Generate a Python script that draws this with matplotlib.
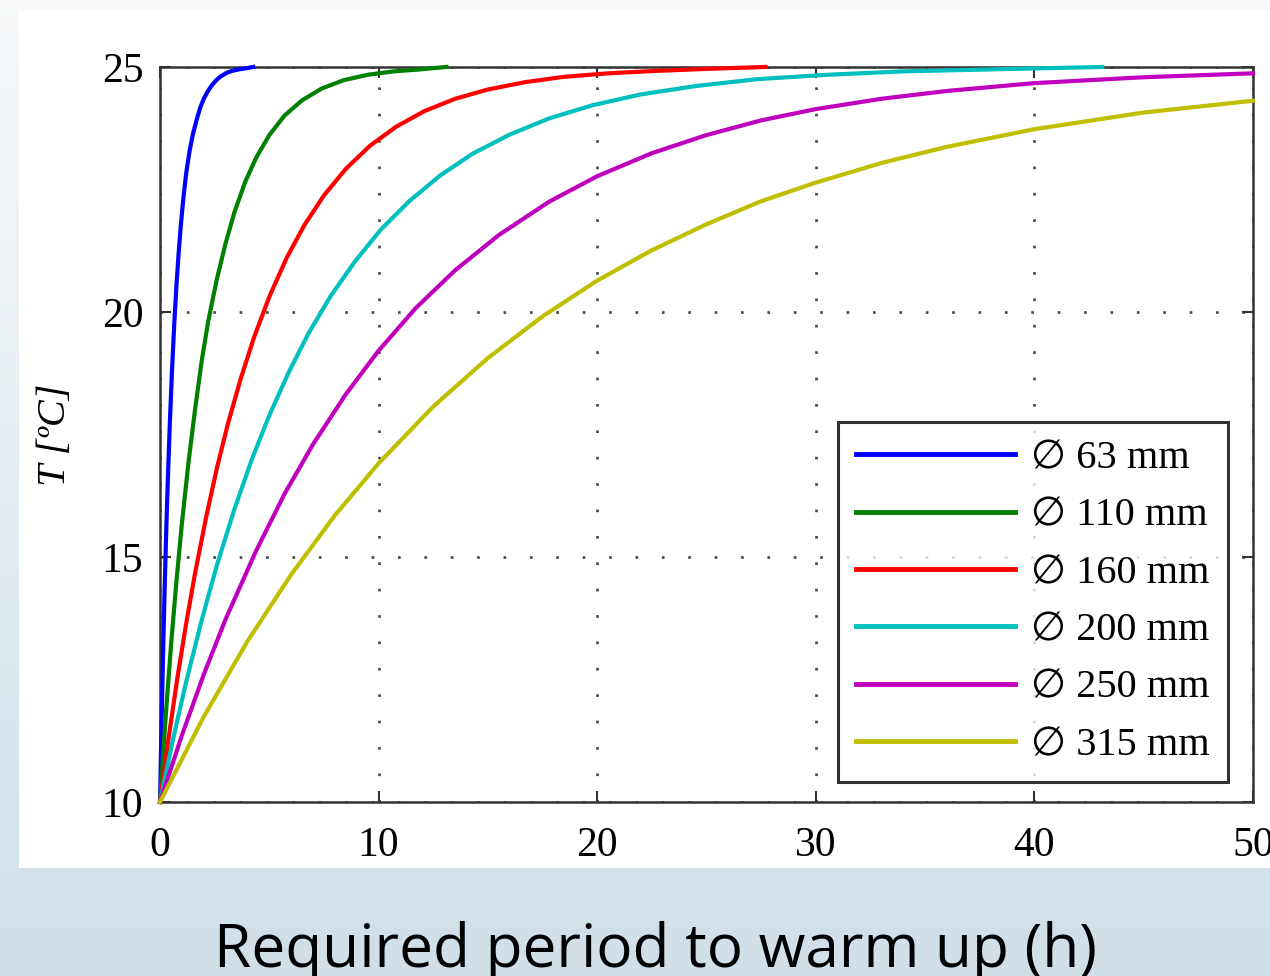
"""
Warm-up curves: water temperature against time for pipes of
different diameter. Values were read off the original figure.
"""

import numpy as np
import matplotlib
matplotlib.use("Agg")
import matplotlib.pyplot as plt
from matplotlib.patches import Rectangle

# ---- data (time in h, temperature in degC) ----
labels = ["\u2205 63 mm", "\u2205 110 mm", "\u2205 160 mm",
          "\u2205 200 mm", "\u2205 250 mm", "\u2205 315 mm"]

t_63 = [0, 0.05, 0.1, 0.15, 0.2, 0.25, 0.3, 0.37, 0.45, 0.55, 0.65, 0.75, 0.85, 0.95,
        1.07, 1.2, 1.35, 1.5, 1.68, 1.84, 2.0, 2.18, 2.36, 2.55, 2.75, 3.05, 3.3, 3.6, 3.9, 4.26]
T_63 = [10, 11.16, 12.23, 13.22, 14.14, 14.98, 15.76, 16.74, 17.74, 18.82, 19.74, 20.53, 21.19, 21.76,
        22.33, 22.84, 23.28, 23.62, 23.93, 24.17, 24.35, 24.5, 24.62, 24.72, 24.8, 24.88, 24.92, 24.95, 24.97, 25.0]

t_110 = [0, 0.15, 0.3, 0.5, 0.75, 1.0, 1.3, 1.6, 1.9, 2.2, 2.6, 3.0, 3.4, 3.9, 4.4,
         5.0, 5.7, 6.5, 7.4, 8.4, 9.5, 10.7, 11.9, 13.1]
T_110 = [10, 11.04, 11.99, 13.18, 14.5, 15.68, 16.92, 18.0, 18.98, 19.8, 20.67, 21.4, 22.03, 22.66, 23.15,
         23.61, 24.01, 24.32, 24.56, 24.73, 24.84, 24.91, 24.95, 25.0]

t_160 = [0, 0.4, 0.8, 1.2, 1.6, 2.1, 2.6, 3.1, 3.7, 4.3, 5.0, 5.8, 6.6, 7.5, 8.5, 9.6,
         10.8, 12.1, 13.5, 15.0, 16.7, 18.5, 20.5, 22.7, 25.0, 27.7]
T_160 = [10, 11.33, 12.55, 13.65, 14.66, 15.79, 16.81, 17.71, 18.65, 19.48, 20.31, 21.11, 21.77, 22.38, 22.92, 23.39,
         23.78, 24.1, 24.35, 24.54, 24.69, 24.8, 24.87, 24.92, 24.96, 25.0]

t_200 = [0, 0.6, 1.2, 1.9, 2.6, 3.4, 4.2, 5.0, 5.9, 6.8, 7.8, 8.9, 10.1, 11.4, 12.8,
         14.3, 16.0, 17.8, 19.8, 22.0, 24.5, 27.3, 30.5, 34.0, 38.0, 43.1]
T_200 = [10, 11.29, 12.46, 13.7, 14.83, 15.97, 16.99, 17.89, 18.78, 19.57, 20.32, 21.02, 21.68, 22.26, 22.78,
         23.23, 23.62, 23.95, 24.22, 24.44, 24.61, 24.75, 24.84, 24.91, 24.95, 25.0]

t_250 = [0, 1, 2, 3, 4.4, 5.7, 7, 8.5, 10, 11.7, 13.5, 15.5, 17.8, 20, 22.5, 25,
         27.5, 30, 33, 36, 40, 45, 50]
T_250 = [10, 11.36, 12.6, 13.73, 15.13, 16.29, 17.3, 18.32, 19.21, 20.08, 20.85, 21.57, 22.25, 22.77, 23.24, 23.61,
         23.91, 24.14, 24.35, 24.51, 24.67, 24.79, 24.87]

t_315 = [0, 2, 4, 6, 8, 10, 12.5, 15, 17.5, 20, 22.5, 25, 27.5, 30, 33, 36, 40, 45, 50]
T_315 = [10, 11.74, 13.28, 14.64, 15.85, 16.91, 18.07, 19.06, 19.91, 20.64, 21.26, 21.79, 22.26, 22.64,
         23.04, 23.37, 23.73, 24.07, 24.31]

series_t = [t_63, t_110, t_160, t_200, t_250, t_315]
series_T = [T_63, T_110, T_160, T_200, T_250, T_315]

# MATLAB default line colours
colors = [(0, 0, 1), (0, 0.5, 0), (1, 0, 0),
          (0, 0.75, 0.75), (0.75, 0, 0.75), (0.75, 0.75, 0)]

x_ticks = [0, 10, 20, 30, 40, 50]
y_ticks = [10, 15, 20, 25]

serif = ["Liberation Serif", "DejaVu Sans"]

fig = plt.figure(figsize=(12.7, 9.76), dpi=100)

# light blue gradient behind everything
bg = fig.add_axes([0, 0, 1, 1], zorder=-10)
grad = np.linspace(0, 1, 256).reshape(-1, 1)
top_c = np.array([0.97, 0.978, 0.985])
bot_c = np.array([0.815, 0.875, 0.91])
img = top_c + (bot_c - top_c) * grad[:, :, None]
bg.imshow(img, aspect="auto", extent=[0, 1, 0, 1], origin="upper")
bg.set_axis_off()

# white panel of the original MATLAB figure
fig.patches.append(Rectangle((0.015, 0.1107), 0.985, 0.878,
                             transform=fig.transFigure, facecolor="white",
                             edgecolor="none", zorder=-5))

ax = fig.add_axes([0.126, 0.1783, 0.8606, 0.7531])
ax.set_facecolor("white")

for t, T, c, lab in zip(series_t, series_T, colors, labels):
    ax.plot(t, T, color=c, lw=3, label=lab, zorder=3, clip_on=False,
            solid_joinstyle="round")

ax.set_xlim(0, 50)
ax.set_ylim(10, 25)
ax.set_xticks(x_ticks)
ax.set_yticks(y_ticks)

# dotted MATLAB-like grid
ax.grid(True, color="#444444", linestyle=(0, (1, 9)), linewidth=1.9)
ax.set_axisbelow(True)

for s in ax.spines.values():
    s.set_color("#333333")
    s.set_linewidth(1.8)

ax.tick_params(direction="in", length=8, width=1.5, color="#333333",
               top=True, right=True, labelsize=30)
ax.tick_params(axis="x", pad=18)
ax.tick_params(axis="y", pad=12)
for lbl in ax.get_xticklabels() + ax.get_yticklabels():
    lbl.set_family(serif)

ax.set_ylabel("T [\u00baC]", family=serif, style="italic", fontsize=29, labelpad=20)

leg = ax.legend(loc="lower right", bbox_to_anchor=(0.977, 0.027),
                prop={"family": serif, "size": 29}, frameon=True, fancybox=False,
                handlelength=3.95, handletextpad=0.4, labelspacing=0.5,
                borderpad=0.45, borderaxespad=0)
leg.get_frame().set_edgecolor("black")
leg.get_frame().set_linewidth(2.2)
for h in leg.get_lines():
    h.set_linewidth(3.5)

# caption below the figure
fig.text(0.516, 0.0095, "Required period to warm up (h)", family="Open Sans",
         fontsize=43.5, ha="center", va="baseline", color="black")

fig.savefig("out.png", dpi=100)
